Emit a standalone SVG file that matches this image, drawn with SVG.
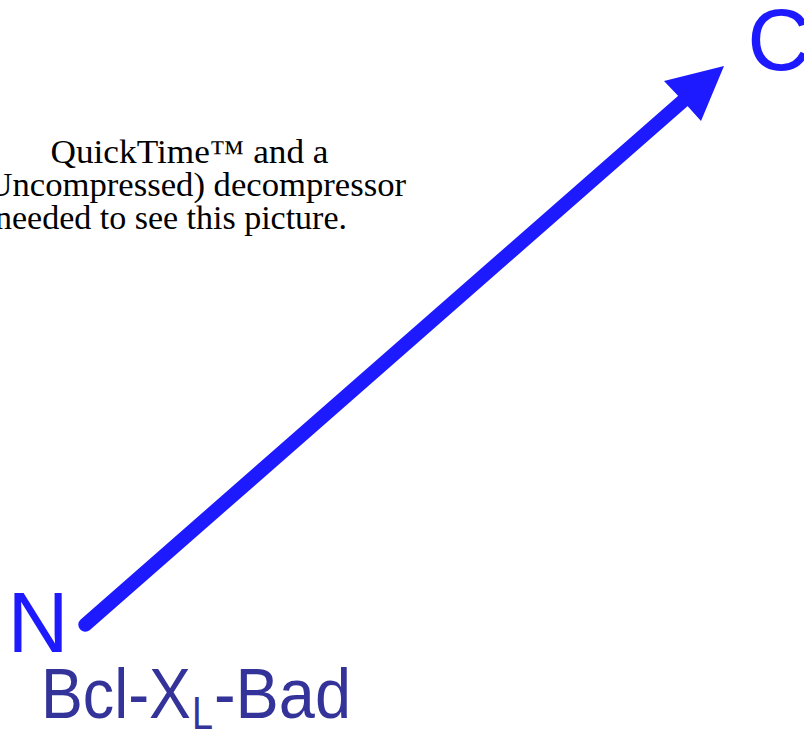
<svg xmlns="http://www.w3.org/2000/svg" width="804" height="729" viewBox="0 0 804 729">
  <style>
    .qt { font-family: "Liberation Serif", "Times New Roman", serif; font-size: 33px; fill: #000000; }
    .end { font-family: "Liberation Sans", Arial, sans-serif; fill: #1e1aff; }
    .lbl { font-family: "Liberation Sans", Arial, sans-serif; fill: #333399; }
    .shaft { stroke: #1e1aff; stroke-width: 14; stroke-linecap: round; fill: none; }
    .head { fill: #1e1aff; }
  </style>
  <rect width="804" height="729" fill="#ffffff"/>
  <g id="quicktime-placeholder">
    <text class="qt" x="50.5" y="162.5" textLength="278" lengthAdjust="spacingAndGlyphs">QuickTime™ and a</text>
    <text class="qt" x="-24" y="196" textLength="430" lengthAdjust="spacingAndGlyphs">(Uncompressed) decompressor</text>
    <text class="qt" x="-5" y="229" textLength="352" lengthAdjust="spacingAndGlyphs">needed to see this picture.</text>
  </g>
  <g id="connectors">
    <line class="shaft" x1="85.3" y1="624.7" x2="684" y2="100"/>
    <polygon class="head" points="724,66 664,81 683,101 701,121"/>
  </g>
  <g id="node-N">
    <text class="end" x="7.6" y="652" font-size="84.6">N</text>
  </g>
  <g id="node-C">
    <text class="end" x="747.3" y="69.6" font-size="88">C</text>
  </g>
  <g id="label-bcl">
    <text class="lbl" y="718" font-size="70"><tspan x="41" textLength="150" lengthAdjust="spacingAndGlyphs">Bcl-X</tspan><tspan x="192" y="729" font-size="46" textLength="21" lengthAdjust="spacingAndGlyphs">L</tspan><tspan x="214" y="718" textLength="137" lengthAdjust="spacingAndGlyphs">-Bad</tspan></text>
  </g>
</svg>
